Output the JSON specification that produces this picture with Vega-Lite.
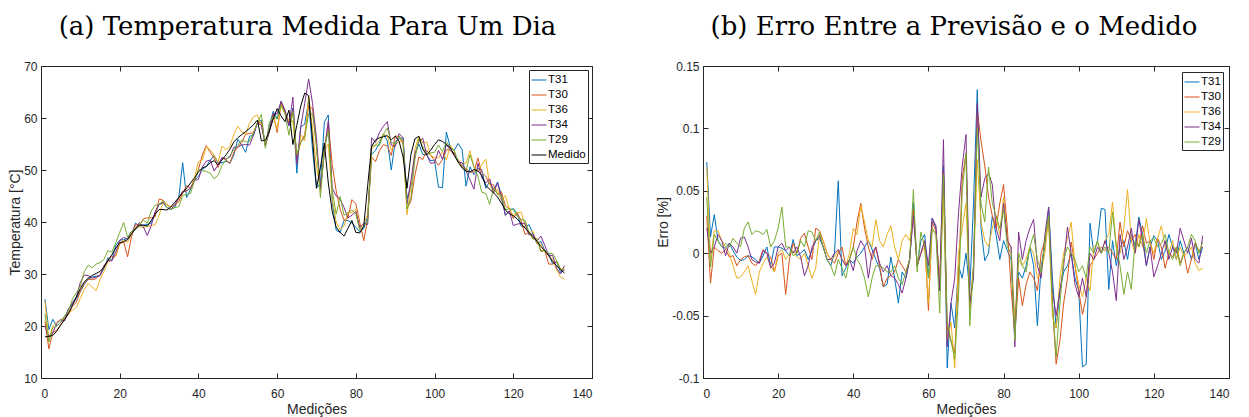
{
"$schema": "https://vega.github.io/schema/vega-lite/v6.json",
"padding": {"left": 8, "top": 13, "right": 5, "bottom": 0},
"spacing": 63,
"background": "white",
"datasets": {
"temp": [
{"i":1,"T31":25.2,"T30":20.9,"T36":24.8,"T34":19.9,"T29":22.4,"Medido":17.9},
{"i":2,"T31":19.3,"T30":15.6,"T36":17.5,"T34":18.0,"T29":16.9,"Medido":18.0},
{"i":3,"T31":21.3,"T30":18.7,"T36":20.0,"T34":18.7,"T29":19.7,"Medido":18.2},
{"i":4,"T31":20.0,"T30":19.2,"T36":20.8,"T34":20.5,"T29":20.0,"Medido":19.0},
{"i":5,"T31":20.7,"T30":20.2,"T36":21.2,"T34":21.2,"T29":20.7,"Medido":20.2},
{"i":6,"T31":21.6,"T30":21.5,"T36":21.7,"T34":21.0,"T29":22.0,"Medido":21.2},
{"i":7,"T31":23.3,"T30":22.2,"T36":22.5,"T34":23.3,"T29":23.0,"Medido":22.5},
{"i":8,"T31":24.2,"T30":23.8,"T36":23.0,"T34":24.5,"T29":25.2,"Medido":24.0},
{"i":9,"T31":25.3,"T30":24.6,"T36":23.6,"T34":25.6,"T29":26.4,"Medido":25.6},
{"i":10,"T31":26.6,"T30":26.7,"T36":25.3,"T34":28.4,"T29":27.7,"Medido":27.2},
{"i":11,"T31":28.0,"T30":28.2,"T36":27.0,"T34":29.8,"T29":30.5,"Medido":28.5},
{"i":12,"T31":29.0,"T30":29.0,"T36":28.2,"T34":29.7,"T29":31.7,"Medido":29.2},
{"i":13,"T31":29.4,"T30":28.9,"T36":27.5,"T34":29.2,"T29":31.2,"Medido":29.7},
{"i":14,"T31":29.6,"T30":29.1,"T36":26.8,"T34":29.4,"T29":31.9,"Medido":30.1},
{"i":15,"T31":29.7,"T30":29.9,"T36":29.0,"T34":29.7,"T29":32.2,"Medido":30.5},
{"i":16,"T31":31.1,"T30":31.6,"T36":30.5,"T34":31.5,"T29":32.8,"Medido":31.3},
{"i":17,"T31":33.1,"T30":32.6,"T36":32.3,"T34":32.6,"T29":34.5,"Medido":32.6},
{"i":18,"T31":32.7,"T30":33.4,"T36":32.7,"T34":32.5,"T29":34.2,"Medido":33.7},
{"i":19,"T31":35.5,"T30":33.5,"T36":33.5,"T34":34.2,"T29":36.0,"Medido":35.0},
{"i":20,"T31":36.5,"T30":35.8,"T36":36.0,"T34":36.5,"T29":38.0,"Medido":36.0},
{"i":21,"T31":36.6,"T30":36.2,"T36":36.5,"T34":37.0,"T29":39.9,"Medido":36.2},
{"i":22,"T31":36.8,"T30":33.3,"T36":36.1,"T34":36.8,"T29":37.1,"Medido":36.6},
{"i":23,"T31":37.5,"T30":37.2,"T36":37.7,"T34":38.2,"T29":38.2,"Medido":37.7},
{"i":24,"T31":39.8,"T30":39.5,"T36":38.9,"T34":38.7,"T29":38.5,"Medido":38.7},
{"i":25,"T31":39.2,"T30":39.4,"T36":39.1,"T34":39.9,"T29":39.4,"Medido":39.4},
{"i":26,"T31":39.4,"T30":40.6,"T36":38.9,"T34":39.1,"T29":40.4,"Medido":39.4},
{"i":27,"T31":39.5,"T30":40.8,"T36":39.2,"T34":37.4,"T29":39.7,"Medido":39.2},
{"i":28,"T31":39.8,"T30":40.8,"T36":39.3,"T34":39.3,"T29":42.1,"Medido":40.3},
{"i":29,"T31":41.7,"T30":41.0,"T36":39.5,"T34":42.0,"T29":43.2,"Medido":41.5},
{"i":30,"T31":43.4,"T30":44.4,"T36":41.2,"T34":43.4,"T29":43.4,"Medido":42.4},
{"i":31,"T31":43.6,"T30":44.2,"T36":43.9,"T34":43.8,"T29":44.1,"Medido":42.4},
{"i":32,"T31":42.8,"T30":43.3,"T36":43.3,"T34":42.8,"T29":42.8,"Medido":42.3},
{"i":33,"T31":42.4,"T30":42.9,"T36":42.9,"T34":42.4,"T29":42.4,"Medido":42.9},
{"i":34,"T31":42.8,"T30":43.3,"T36":43.3,"T34":43.3,"T29":42.8,"Medido":43.8},
{"i":35,"T31":44.7,"T30":43.9,"T36":44.4,"T34":44.7,"T29":42.9,"Medido":44.7},
{"i":36,"T31":51.4,"T30":45.6,"T36":45.8,"T34":45.9,"T29":45.1,"Medido":45.6},
{"i":37,"T31":44.7,"T30":47.0,"T36":46.0,"T34":46.0,"T29":45.3,"Medido":46.5},
{"i":38,"T31":46.3,"T30":46.5,"T36":46.5,"T34":46.5,"T29":45.5,"Medido":47.5},
{"i":39,"T31":48.0,"T30":48.0,"T36":48.5,"T34":48.0,"T29":48.0,"Medido":48.5},
{"i":40,"T31":48.8,"T30":50.1,"T36":51.6,"T34":48.2,"T29":50.1,"Medido":49.6},
{"i":41,"T31":50.1,"T30":52.9,"T36":51.9,"T34":50.6,"T29":49.9,"Medido":50.4},
{"i":42,"T31":50.7,"T30":54.7,"T36":54.5,"T34":51.7,"T29":49.7,"Medido":50.7},
{"i":43,"T31":51.9,"T30":53.4,"T36":53.9,"T34":51.9,"T29":49.4,"Medido":51.4},
{"i":44,"T31":52.8,"T30":52.3,"T36":52.8,"T34":49.8,"T29":48.3,"Medido":51.8},
{"i":45,"T31":51.3,"T30":50.5,"T36":51.5,"T34":51.0,"T29":49.0,"Medido":51.0},
{"i":46,"T31":51.4,"T30":52.4,"T36":54.6,"T34":52.4,"T29":50.9,"Medido":51.9},
{"i":47,"T31":51.7,"T30":51.9,"T36":53.9,"T34":52.1,"T29":51.9,"Medido":52.9},
{"i":48,"T31":51.3,"T30":51.3,"T36":54.5,"T34":52.5,"T29":52.8,"Medido":54.0},
{"i":49,"T31":52.9,"T30":53.4,"T36":56.9,"T34":54.4,"T29":53.9,"Medido":55.4},
{"i":50,"T31":55.9,"T30":54.4,"T36":58.4,"T34":54.4,"T29":54.7,"Medido":56.2},
{"i":51,"T31":54.8,"T30":55.3,"T36":57.3,"T34":54.8,"T29":55.8,"Medido":56.8},
{"i":52,"T31":53.4,"T30":56.9,"T36":56.9,"T34":54.9,"T29":55.4,"Medido":57.4},
{"i":53,"T31":56.5,"T30":57.0,"T36":59.0,"T34":54.8,"T29":55.5,"Medido":58.0},
{"i":54,"T31":56.7,"T30":57.2,"T36":60.2,"T34":56.7,"T29":57.2,"Medido":58.7},
{"i":55,"T31":59.1,"T30":59.1,"T36":60.6,"T34":59.1,"T29":59.1,"Medido":59.6},
{"i":56,"T31":59.6,"T30":59.1,"T36":58.6,"T34":58.6,"T29":60.7,"Medido":55.6},
{"i":57,"T31":54.7,"T30":54.7,"T36":54.9,"T34":54.7,"T29":54.2,"Medido":55.7},
{"i":58,"T31":58.4,"T30":57.4,"T36":57.4,"T34":57.4,"T29":59.1,"Medido":57.4},
{"i":59,"T31":61.3,"T30":60.8,"T36":60.3,"T34":60.8,"T29":60.3,"Medido":59.8},
{"i":60,"T31":59.8,"T30":57.2,"T36":57.8,"T34":60.8,"T29":59.8,"Medido":61.8},
{"i":61,"T31":63.2,"T30":62.9,"T36":62.4,"T34":63.2,"T29":62.4,"Medido":60.4},
{"i":62,"T31":61.3,"T30":61.1,"T36":60.8,"T34":61.5,"T29":60.8,"Medido":59.3},
{"i":63,"T31":58.5,"T30":59.0,"T36":59.5,"T34":58.5,"T29":56.7,"Medido":61.5},
{"i":64,"T31":61.9,"T30":61.4,"T36":59.4,"T34":64.0,"T29":61.2,"Medido":54.9},
{"i":65,"T31":49.4,"T30":52.6,"T36":51.6,"T34":51.1,"T29":53.1,"Medido":58.6},
{"i":66,"T31":58.3,"T30":55.3,"T36":56.8,"T34":58.3,"T29":55.3,"Medido":62.3},
{"i":67,"T31":58.8,"T30":56.8,"T36":55.6,"T34":62.8,"T29":56.3,"Medido":64.8},
{"i":68,"T31":63.3,"T30":62.3,"T36":64.3,"T34":67.5,"T29":60.8,"Medido":64.3},
{"i":69,"T31":53.8,"T30":61.8,"T36":57.8,"T34":62.8,"T29":60.8,"Medido":55.8},
{"i":70,"T31":46.5,"T30":54.5,"T36":50.5,"T34":56.0,"T29":54.5,"Medido":46.5},
{"i":71,"T31":47.5,"T30":46.0,"T36":46.5,"T34":46.5,"T29":44.7,"Medido":50.5},
{"i":72,"T31":59.2,"T30":54.2,"T36":53.7,"T34":53.2,"T29":54.2,"Medido":55.2},
{"i":73,"T31":60.6,"T30":59.0,"T36":55.0,"T34":59.5,"T29":57.5,"Medido":47.5},
{"i":74,"T31":44.0,"T30":51.0,"T36":44.5,"T34":46.5,"T29":46.0,"Medido":42.0},
{"i":75,"T31":38.4,"T30":46.0,"T36":40.0,"T34":45.0,"T29":41.5,"Medido":39.0},
{"i":76,"T31":38.0,"T30":42.5,"T36":38.5,"T34":44.4,"T29":44.9,"Medido":38.0},
{"i":77,"T31":40.3,"T30":40.3,"T36":39.3,"T34":42.8,"T29":41.3,"Medido":37.3},
{"i":78,"T31":40.3,"T30":40.8,"T36":41.8,"T34":40.8,"T29":41.8,"Medido":38.8},
{"i":79,"T31":39.8,"T30":44.3,"T36":41.8,"T34":41.3,"T29":42.3,"Medido":40.3},
{"i":80,"T31":39.0,"T30":43.5,"T36":42.5,"T34":42.0,"T29":41.5,"Medido":38.0},
{"i":81,"T31":38.1,"T30":39.9,"T36":38.9,"T34":38.9,"T29":38.4,"Medido":37.9},
{"i":82,"T31":38.7,"T30":36.4,"T36":39.7,"T34":39.7,"T29":39.2,"Medido":39.2},
{"i":83,"T31":41.0,"T30":40.5,"T36":41.5,"T34":39.5,"T29":40.0,"Medido":47.0},
{"i":84,"T31":53.0,"T30":52.5,"T36":54.0,"T34":56.2,"T29":54.5,"Medido":54.5},
{"i":85,"T31":53.8,"T30":51.6,"T36":54.8,"T34":55.3,"T29":54.8,"Medido":55.8},
{"i":86,"T31":55.2,"T30":53.7,"T36":55.7,"T34":57.2,"T29":54.7,"Medido":56.2},
{"i":87,"T31":56.9,"T30":54.9,"T36":56.9,"T34":58.4,"T29":56.9,"Medido":56.4},
{"i":88,"T31":55.6,"T30":54.6,"T36":56.6,"T34":59.3,"T29":58.1,"Medido":56.6},
{"i":89,"T31":50.0,"T30":52.8,"T36":53.8,"T34":54.8,"T29":55.3,"Medido":55.8},
{"i":90,"T31":55.5,"T30":56.5,"T36":55.0,"T34":54.5,"T29":55.0,"Medido":56.5},
{"i":91,"T31":56.0,"T30":56.5,"T36":55.5,"T34":57.0,"T29":56.5,"Medido":55.5},
{"i":92,"T31":56.2,"T30":55.0,"T36":55.5,"T34":56.2,"T29":55.5,"Medido":52.5},
{"i":93,"T31":44.5,"T30":42.5,"T36":41.4,"T34":43.5,"T29":42.5,"Medido":46.5},
{"i":94,"T31":47.0,"T30":44.1,"T36":47.0,"T34":48.0,"T29":44.7,"Medido":53.0},
{"i":95,"T31":53.0,"T30":49.0,"T36":54.0,"T34":53.0,"T29":52.0,"Medido":56.0},
{"i":96,"T31":55.0,"T30":52.5,"T36":56.5,"T34":55.5,"T29":56.0,"Medido":56.5},
{"i":97,"T31":53.0,"T30":52.0,"T36":55.2,"T34":56.1,"T29":54.5,"Medido":54.0},
{"i":98,"T31":52.9,"T30":53.8,"T36":55.4,"T34":52.9,"T29":52.9,"Medido":52.9},
{"i":99,"T31":51.8,"T30":52.8,"T36":52.8,"T34":51.3,"T29":53.3,"Medido":53.8},
{"i":100,"T31":51.9,"T30":51.9,"T36":52.4,"T34":51.4,"T29":53.4,"Medido":54.9},
{"i":101,"T31":46.7,"T30":50.9,"T36":52.3,"T34":53.8,"T29":54.8,"Medido":55.8},
{"i":102,"T31":46.6,"T30":52.0,"T36":53.5,"T34":52.0,"T29":53.5,"Medido":55.5},
{"i":103,"T31":57.3,"T30":53.9,"T36":51.9,"T34":54.9,"T29":55.4,"Medido":54.9},
{"i":104,"T31":54.3,"T30":53.8,"T36":54.8,"T34":53.8,"T29":54.3,"Medido":54.3},
{"i":105,"T31":53.8,"T30":52.8,"T36":53.6,"T34":53.3,"T29":53.8,"Medido":52.8},
{"i":106,"T31":55.1,"T30":52.0,"T36":51.5,"T34":51.5,"T29":51.5,"Medido":51.5},
{"i":107,"T31":53.9,"T30":50.6,"T36":51.4,"T34":51.4,"T29":50.9,"Medido":50.4},
{"i":108,"T31":46.9,"T30":50.3,"T36":51.3,"T34":49.8,"T29":49.8,"Medido":49.8},
{"i":109,"T31":50.6,"T30":49.6,"T36":53.7,"T34":48.1,"T29":52.9,"Medido":49.6},
{"i":110,"T31":49.1,"T30":49.6,"T36":50.6,"T34":46.3,"T29":50.6,"Medido":50.1},
{"i":111,"T31":50.3,"T30":52.3,"T36":49.8,"T34":51.3,"T29":48.8,"Medido":49.8},
{"i":112,"T31":50.0,"T30":49.5,"T36":51.0,"T34":48.5,"T29":45.7,"Medido":49.0},
{"i":113,"T31":46.5,"T30":48.8,"T36":52.1,"T34":47.5,"T29":45.5,"Medido":47.0},
{"i":114,"T31":47.8,"T30":47.3,"T36":47.3,"T34":48.3,"T29":43.4,"Medido":46.3},
{"i":115,"T31":46.1,"T30":47.1,"T36":45.6,"T34":45.6,"T29":46.6,"Medido":45.6},
{"i":116,"T31":47.7,"T30":45.3,"T36":46.3,"T34":47.5,"T29":45.3,"Medido":44.8},
{"i":117,"T31":45.1,"T30":45.8,"T36":44.1,"T34":44.6,"T29":45.1,"Medido":43.6},
{"i":118,"T31":41.3,"T30":43.1,"T36":45.1,"T34":41.3,"T29":42.3,"Medido":42.3},
{"i":119,"T31":42.1,"T30":42.6,"T36":42.4,"T34":42.1,"T29":42.6,"Medido":41.6},
{"i":120,"T31":42.6,"T30":40.7,"T36":41.2,"T34":39.3,"T29":42.4,"Medido":41.2},
{"i":121,"T31":41.6,"T30":41.8,"T36":41.8,"T34":39.6,"T29":41.1,"Medido":40.6},
{"i":122,"T31":39.2,"T30":40.2,"T36":41.9,"T34":39.7,"T29":40.5,"Medido":39.7},
{"i":123,"T31":39.0,"T30":37.6,"T36":39.3,"T34":39.8,"T29":40.3,"Medido":38.8},
{"i":124,"T31":39.5,"T30":38.0,"T36":38.0,"T34":37.5,"T29":38.0,"Medido":38.0},
{"i":125,"T31":37.7,"T30":36.9,"T36":38.2,"T34":37.7,"T29":36.7,"Medido":37.2},
{"i":126,"T31":35.8,"T30":36.8,"T36":35.8,"T34":36.3,"T29":36.8,"Medido":36.3},
{"i":127,"T31":36.3,"T30":34.5,"T36":35.8,"T34":37.3,"T29":34.3,"Medido":35.3},
{"i":128,"T31":34.5,"T30":34.5,"T36":34.3,"T34":35.5,"T29":34.5,"Medido":34.5},
{"i":129,"T31":34.0,"T30":31.9,"T36":33.5,"T34":33.5,"T29":34.0,"Medido":33.5},
{"i":130,"T31":31.9,"T30":31.9,"T36":32.9,"T34":33.6,"T29":33.9,"Medido":32.4},
{"i":131,"T31":32.4,"T30":32.4,"T36":30.8,"T34":31.1,"T29":32.6,"Medido":31.6},
{"i":132,"T31":30.3,"T30":31.0,"T36":29.4,"T34":30.0,"T29":30.8,"Medido":30.8},
{"i":133,"T31":30.7,"T30":30.7,"T36":29.0,"T34":31.6,"T29":31.1,"Medido":30.2}
],
"erro": [
{"i":1,"T31":0.073,"T30":0.030,"T36":0.069,"T34":0.020,"T29":0.045},
{"i":2,"T31":0.013,"T30":-0.024,"T36":-0.005,"T34":0,"T29":-0.011},
{"i":3,"T31":0.031,"T30":0.005,"T36":0.018,"T34":0.005,"T29":0.015},
{"i":4,"T31":0.010,"T30":0.002,"T36":0.018,"T34":0.015,"T29":0.010},
{"i":5,"T31":0.005,"T30":0,"T36":0.010,"T34":0.010,"T29":0.005},
{"i":6,"T31":0.004,"T30":0.003,"T36":0.005,"T34":-0.002,"T29":0.008},
{"i":7,"T31":0.008,"T30":-0.003,"T36":0,"T34":0.008,"T29":0.005},
{"i":8,"T31":0.002,"T30":-0.002,"T36":-0.010,"T34":0.005,"T29":0.012},
{"i":9,"T31":-0.003,"T30":-0.010,"T36":-0.020,"T34":0,"T29":0.008},
{"i":10,"T31":-0.006,"T30":-0.005,"T36":-0.019,"T34":0.012,"T29":0.005},
{"i":11,"T31":-0.005,"T30":-0.003,"T36":-0.015,"T34":0.013,"T29":0.020},
{"i":12,"T31":-0.002,"T30":-0.002,"T36":-0.010,"T34":0.005,"T29":0.025},
{"i":13,"T31":-0.003,"T30":-0.008,"T36":-0.022,"T34":-0.005,"T29":0.015},
{"i":14,"T31":-0.005,"T30":-0.010,"T36":-0.033,"T34":-0.007,"T29":0.018},
{"i":15,"T31":-0.008,"T30":-0.006,"T36":-0.015,"T34":-0.008,"T29":0.017},
{"i":16,"T31":-0.002,"T30":0.003,"T36":-0.008,"T34":0.002,"T29":0.015},
{"i":17,"T31":0.005,"T30":0,"T36":-0.003,"T34":0,"T29":0.019},
{"i":18,"T31":-0.010,"T30":-0.003,"T36":-0.010,"T34":-0.012,"T29":0.005},
{"i":19,"T31":0.005,"T30":-0.015,"T36":-0.015,"T34":-0.008,"T29":0.010},
{"i":20,"T31":0.005,"T30":-0.002,"T36":0,"T34":0.005,"T29":0.020},
{"i":21,"T31":0.004,"T30":0,"T36":0.003,"T34":0.008,"T29":0.037},
{"i":22,"T31":0.002,"T30":-0.033,"T36":-0.005,"T34":0.002,"T29":0.005},
{"i":23,"T31":-0.002,"T30":-0.005,"T36":0,"T34":0.005,"T29":0.005},
{"i":24,"T31":0.011,"T30":0.008,"T36":0.002,"T34":0,"T29":-0.002},
{"i":25,"T31":-0.002,"T30":0,"T36":-0.003,"T34":0.005,"T29":0},
{"i":26,"T31":0,"T30":0.012,"T36":-0.005,"T34":-0.003,"T29":0.010},
{"i":27,"T31":0.003,"T30":0.016,"T36":0,"T34":-0.018,"T29":0.005},
{"i":28,"T31":-0.005,"T30":0.005,"T36":-0.010,"T34":-0.010,"T29":0.018},
{"i":29,"T31":0.002,"T30":-0.005,"T36":-0.020,"T34":0.005,"T29":0.017},
{"i":30,"T31":0.010,"T30":0.020,"T36":-0.012,"T34":0.010,"T29":0.010},
{"i":31,"T31":0.012,"T30":0.018,"T36":0.015,"T34":0.014,"T29":0.017},
{"i":32,"T31":0.005,"T30":0.010,"T36":0.010,"T34":0.005,"T29":0.005},
{"i":33,"T31":-0.005,"T30":0,"T36":0,"T34":-0.005,"T29":-0.005},
{"i":34,"T31":-0.010,"T30":-0.005,"T36":-0.005,"T34":-0.005,"T29":-0.010},
{"i":35,"T31":0,"T30":-0.008,"T36":-0.003,"T34":0,"T29":-0.018},
{"i":36,"T31":0.058,"T30":0,"T36":0.002,"T34":0.003,"T29":-0.005},
{"i":37,"T31":-0.018,"T30":0.005,"T36":-0.005,"T34":-0.005,"T29":-0.012},
{"i":38,"T31":-0.012,"T30":-0.010,"T36":-0.010,"T34":-0.010,"T29":-0.020},
{"i":39,"T31":-0.005,"T30":-0.005,"T36":0,"T34":-0.005,"T29":-0.005},
{"i":40,"T31":-0.008,"T30":0.005,"T36":0.020,"T34":-0.014,"T29":0.005},
{"i":41,"T31":-0.003,"T30":0.025,"T36":0.015,"T34":0.002,"T29":-0.005},
{"i":42,"T31":0,"T30":0.040,"T36":0.038,"T34":0.010,"T29":-0.010},
{"i":43,"T31":0.005,"T30":0.020,"T36":0.025,"T34":0.005,"T29":-0.020},
{"i":44,"T31":0.010,"T30":0.005,"T36":0.010,"T34":-0.020,"T29":-0.035},
{"i":45,"T31":0.003,"T30":-0.005,"T36":0.005,"T34":0,"T29":-0.020},
{"i":46,"T31":-0.005,"T30":0.005,"T36":0.027,"T34":0.005,"T29":-0.010},
{"i":47,"T31":-0.012,"T30":-0.010,"T36":0.010,"T34":-0.008,"T29":-0.010},
{"i":48,"T31":-0.027,"T30":-0.027,"T36":0.005,"T34":-0.015,"T29":-0.012},
{"i":49,"T31":-0.025,"T30":-0.020,"T36":0.015,"T34":-0.010,"T29":-0.015},
{"i":50,"T31":-0.003,"T30":-0.018,"T36":0.022,"T34":-0.018,"T29":-0.015},
{"i":51,"T31":-0.020,"T30":-0.015,"T36":0.005,"T34":-0.020,"T29":-0.010},
{"i":52,"T31":-0.040,"T30":-0.005,"T36":-0.005,"T34":-0.025,"T29":-0.020},
{"i":53,"T31":-0.015,"T30":-0.010,"T36":0.010,"T34":-0.032,"T29":-0.025},
{"i":54,"T31":-0.020,"T30":-0.015,"T36":0.015,"T34":-0.020,"T29":-0.015},
{"i":55,"T31":-0.005,"T30":-0.005,"T36":0.010,"T34":-0.005,"T29":-0.005},
{"i":56,"T31":0.040,"T30":0.035,"T36":0.030,"T34":0.030,"T29":0.051},
{"i":57,"T31":-0.010,"T30":-0.010,"T36":-0.008,"T34":-0.010,"T29":-0.015},
{"i":58,"T31":0.010,"T30":0,"T36":0,"T34":0,"T29":0.017},
{"i":59,"T31":0.015,"T30":0.010,"T36":0.005,"T34":0.010,"T29":0.005},
{"i":60,"T31":-0.020,"T30":-0.046,"T36":-0.040,"T34":-0.010,"T29":-0.020},
{"i":61,"T31":0.028,"T30":0.025,"T36":0.020,"T34":0.028,"T29":0.020},
{"i":62,"T31":0.020,"T30":0.018,"T36":0.015,"T34":0.022,"T29":0.015},
{"i":63,"T31":-0.030,"T30":-0.025,"T36":-0.020,"T34":-0.030,"T29":-0.048},
{"i":64,"T31":0.070,"T30":0.065,"T36":0.045,"T34":0.091,"T29":0.063},
{"i":65,"T31":-0.092,"T30":-0.060,"T36":-0.070,"T34":-0.075,"T29":-0.055},
{"i":66,"T31":-0.040,"T30":-0.070,"T36":-0.055,"T34":-0.040,"T29":-0.070},
{"i":67,"T31":-0.060,"T30":-0.080,"T36":-0.092,"T34":-0.020,"T29":-0.085},
{"i":68,"T31":-0.010,"T30":-0.020,"T36":0,"T34":0.032,"T29":-0.035},
{"i":69,"T31":-0.020,"T30":0.060,"T36":0.020,"T34":0.070,"T29":0.050},
{"i":70,"T31":0,"T30":0.080,"T36":0.040,"T34":0.095,"T29":0.080},
{"i":71,"T31":-0.030,"T30":-0.045,"T36":-0.040,"T34":-0.040,"T29":-0.058},
{"i":72,"T31":0.040,"T30":-0.010,"T36":-0.015,"T34":-0.020,"T29":-0.010},
{"i":73,"T31":0.131,"T30":0.115,"T36":0.075,"T34":0.120,"T29":0.100},
{"i":74,"T31":0.020,"T30":0.090,"T36":0.025,"T34":0.045,"T29":0.040},
{"i":75,"T31":-0.006,"T30":0.070,"T36":0.010,"T34":0.060,"T29":0.025},
{"i":76,"T31":0,"T30":0.045,"T36":0.005,"T34":0.064,"T29":0.069},
{"i":77,"T31":0.030,"T30":0.030,"T36":0.020,"T34":0.055,"T29":0.040},
{"i":78,"T31":0.015,"T30":0.020,"T36":0.030,"T34":0.020,"T29":0.030},
{"i":79,"T31":-0.005,"T30":0.040,"T36":0.015,"T34":0.010,"T29":0.020},
{"i":80,"T31":0.010,"T30":0.055,"T36":0.045,"T34":0.040,"T29":0.035},
{"i":81,"T31":0.002,"T30":0.020,"T36":0.010,"T34":0.010,"T29":0.005},
{"i":82,"T31":-0.005,"T30":-0.028,"T36":0.005,"T34":0.005,"T29":0},
{"i":83,"T31":-0.060,"T30":-0.065,"T36":-0.055,"T34":-0.075,"T29":-0.070},
{"i":84,"T31":-0.015,"T30":-0.020,"T36":-0.005,"T34":0.017,"T29":0},
{"i":85,"T31":-0.020,"T30":-0.042,"T36":-0.010,"T34":-0.005,"T29":-0.010},
{"i":86,"T31":-0.010,"T30":-0.025,"T36":-0.005,"T34":0.010,"T29":-0.015},
{"i":87,"T31":0.005,"T30":-0.015,"T36":0.005,"T34":0.020,"T29":0.005},
{"i":88,"T31":-0.010,"T30":-0.020,"T36":0,"T34":0.027,"T29":0.015},
{"i":89,"T31":-0.058,"T30":-0.030,"T36":-0.020,"T34":-0.010,"T29":-0.005},
{"i":90,"T31":-0.010,"T30":0,"T36":-0.015,"T34":-0.020,"T29":-0.015},
{"i":91,"T31":0.005,"T30":0.010,"T36":0,"T34":0.015,"T29":0.010},
{"i":92,"T31":0.037,"T30":0.025,"T36":0.030,"T34":0.037,"T29":0.030},
{"i":93,"T31":-0.020,"T30":-0.040,"T36":-0.051,"T34":-0.030,"T29":-0.040},
{"i":94,"T31":-0.060,"T30":-0.089,"T36":-0.060,"T34":-0.050,"T29":-0.083},
{"i":95,"T31":-0.030,"T30":-0.070,"T36":-0.020,"T34":-0.030,"T29":-0.040},
{"i":96,"T31":-0.015,"T30":-0.040,"T36":0,"T34":-0.010,"T29":-0.005},
{"i":97,"T31":-0.010,"T30":-0.020,"T36":0.012,"T34":0.021,"T29":0.005},
{"i":98,"T31":0,"T30":0.009,"T36":0.025,"T34":0,"T29":0},
{"i":99,"T31":-0.020,"T30":-0.010,"T36":-0.010,"T34":-0.025,"T29":-0.005},
{"i":100,"T31":-0.030,"T30":-0.030,"T36":-0.025,"T34":-0.035,"T29":-0.015},
{"i":101,"T31":-0.091,"T30":-0.049,"T36":-0.035,"T34":-0.020,"T29":-0.010},
{"i":102,"T31":-0.089,"T30":-0.035,"T36":-0.020,"T34":-0.035,"T29":-0.020},
{"i":103,"T31":0.024,"T30":-0.010,"T36":-0.030,"T34":0,"T29":0.005},
{"i":104,"T31":0,"T30":-0.005,"T36":0.005,"T34":-0.005,"T29":0},
{"i":105,"T31":0.010,"T30":0,"T36":0.008,"T34":0.005,"T29":0.010},
{"i":106,"T31":0.036,"T30":0.005,"T36":0,"T34":0,"T29":0},
{"i":107,"T31":0.035,"T30":0.002,"T36":0.010,"T34":0.010,"T29":0.005},
{"i":108,"T31":-0.029,"T30":0.005,"T36":0.015,"T34":0,"T29":0},
{"i":109,"T31":0.010,"T30":0,"T36":0.041,"T34":-0.015,"T29":0.033},
{"i":110,"T31":-0.010,"T30":-0.005,"T36":0.005,"T34":-0.038,"T29":0.005},
{"i":111,"T31":0.005,"T30":0.025,"T36":0,"T34":0.015,"T29":-0.010},
{"i":112,"T31":0.010,"T30":0.005,"T36":0.020,"T34":-0.005,"T29":-0.033},
{"i":113,"T31":-0.005,"T30":0.018,"T36":0.051,"T34":0.005,"T29":-0.015},
{"i":114,"T31":0.015,"T30":0.010,"T36":0.010,"T34":0.020,"T29":-0.029},
{"i":115,"T31":0.005,"T30":0.015,"T36":0,"T34":0,"T29":0.010},
{"i":116,"T31":0.029,"T30":0.005,"T36":0.015,"T34":0.027,"T29":0.005},
{"i":117,"T31":0.015,"T30":0.022,"T36":0.005,"T34":0.010,"T29":0.015},
{"i":118,"T31":-0.010,"T30":0.008,"T36":0.028,"T34":-0.010,"T29":0},
{"i":119,"T31":0.005,"T30":0.010,"T36":0.008,"T34":0.005,"T29":0.010},
{"i":120,"T31":0.014,"T30":-0.005,"T36":0,"T34":-0.019,"T29":0.012},
{"i":121,"T31":0.010,"T30":0.012,"T36":0.012,"T34":-0.010,"T29":0.005},
{"i":122,"T31":-0.005,"T30":0.005,"T36":0.022,"T34":0,"T29":0.008},
{"i":123,"T31":0.002,"T30":-0.012,"T36":0.005,"T34":0.010,"T29":0.015},
{"i":124,"T31":0.015,"T30":0,"T36":0,"T34":-0.005,"T29":0},
{"i":125,"T31":0.005,"T30":-0.003,"T36":0.010,"T34":0.005,"T29":-0.005},
{"i":126,"T31":-0.005,"T30":0.005,"T36":-0.005,"T34":0,"T29":0.005},
{"i":127,"T31":0.010,"T30":-0.008,"T36":0.005,"T34":0.020,"T29":-0.010},
{"i":128,"T31":0,"T30":0,"T36":-0.002,"T34":0.010,"T29":0},
{"i":129,"T31":0.005,"T30":-0.016,"T36":0,"T34":0,"T29":0.005},
{"i":130,"T31":-0.005,"T30":-0.005,"T36":0.005,"T34":0.012,"T29":0.015},
{"i":131,"T31":0.008,"T30":0.008,"T36":-0.008,"T34":-0.005,"T29":0.010},
{"i":132,"T31":-0.005,"T30":0.002,"T36":-0.014,"T34":-0.008,"T29":0},
{"i":133,"T31":0.005,"T30":0.005,"T36":-0.012,"T34":0.014,"T29":0.009}
]
},
"hconcat": [
{
"width": 551, "height": 312,
"title": {"text": "(a) Temperatura Medida Para Um Dia", "dx": -9},
"data": {"name": "temp"},
"transform": [{"fold": ["T31","T30","T36","T34","T29","Medido"], "as": ["serie","valor"]}],
"layer": [
{"mark": {"type": "line", "strokeWidth": 1, "clip": true},
 "encoding": {
  "x": {"field": "i", "type": "quantitative", "scale": {"domain": [0,140], "nice": false}, "axis": {"values": [0,20,40,60,80,100,120,140], "title": "Medições"}},
  "y": {"field": "valor", "type": "quantitative", "scale": {"domain": [10,70], "nice": false}, "axis": {"values": [10,20,30,40,50,60,70], "title": "Temperatura [°C]"}},
  "color": {"field": "serie", "type": "nominal", "scale": {"domain": ["T31","T30","T36","T34","T29","Medido"], "range": ["#0072BD","#D95319","#EDB120","#7E2F8E","#77AC30","#000000"]}, "legend": {"orient": "top-right", "offset": 4, "title": null}}
 }},
{"mark": {"type": "line", "opacity": 0},
 "encoding": {
  "x": {"field": "i", "type": "quantitative", "axis": {"orient": "top", "values": [0,20,40,60,80,100,120,140], "labels": false, "title": null}},
  "y": {"field": "valor", "type": "quantitative", "axis": {"orient": "right", "values": [10,20,30,40,50,60,70], "labels": false, "title": null}}
 }}
],
"resolve": {"axis": {"x": "independent", "y": "independent"}}
},
{
"width": 526, "height": 312,
"title": {"text": "(b) Erro Entre a Previsão e o Medido", "dx": -12},
"data": {"name": "erro"},
"transform": [{"fold": ["T31","T30","T36","T34","T29"], "as": ["serie","valor"]}],
"layer": [
{"mark": {"type": "line", "strokeWidth": 1, "clip": true},
 "encoding": {
  "x": {"field": "i", "type": "quantitative", "scale": {"domain": [0,140], "nice": false}, "axis": {"values": [0,20,40,60,80,100,120,140], "title": "Medições"}},
  "y": {"field": "valor", "type": "quantitative", "scale": {"domain": [-0.1,0.15], "nice": false}, "axis": {"values": [-0.1,-0.05,0,0.05,0.1,0.15], "labelExpr": "'' + datum.value", "title": "Erro [%]"}},
  "color": {"field": "serie", "type": "nominal", "scale": {"domain": ["T31","T30","T36","T34","T29"], "range": ["#0072BD","#D95319","#EDB120","#7E2F8E","#77AC30"]}, "legend": {"orient": "top-right", "offset": 6, "title": null}}
 }},
{"mark": {"type": "line", "opacity": 0},
 "encoding": {
  "x": {"field": "i", "type": "quantitative", "axis": {"orient": "top", "values": [0,20,40,60,80,100,120,140], "labels": false, "title": null}},
  "y": {"field": "valor", "type": "quantitative", "axis": {"orient": "right", "values": [-0.1,-0.05,0,0.05,0.1,0.15], "labels": false, "title": null}}
 }}
],
"resolve": {"axis": {"x": "independent", "y": "independent"}}
}
],
"resolve": {"scale": {"color": "independent"}, "legend": {"color": "independent"}},
"config": {
"view": {"stroke": "#262626", "strokeWidth": 1},
"axis": {"domainColor": "#262626", "tickColor": "#262626", "labelColor": "#262626", "titleColor": "#262626", "labelFont": "Liberation Sans", "titleFont": "Liberation Sans", "labelFontSize": 12, "titleFontSize": 14, "titleFontWeight": "normal", "tickSize": -5, "grid": false},
"axisX": {"labelPadding": 15, "titlePadding": 3},
"axisY": {"labelPadding": 9, "titlePadding": 1},
"legend": {"symbolType": "stroke", "symbolSize": 225, "symbolStrokeWidth": 1, "labelFont": "Liberation Sans", "labelFontSize": 11.5, "labelColor": "#000000", "fillColor": "white", "strokeColor": "#262626", "padding": 2, "rowPadding": 1, "labelOffset": 1},
"title": {"font": "DejaVu Serif", "fontSize": 26, "fontWeight": "normal", "color": "#000000", "anchor": "middle", "offset": 20}
}
}
